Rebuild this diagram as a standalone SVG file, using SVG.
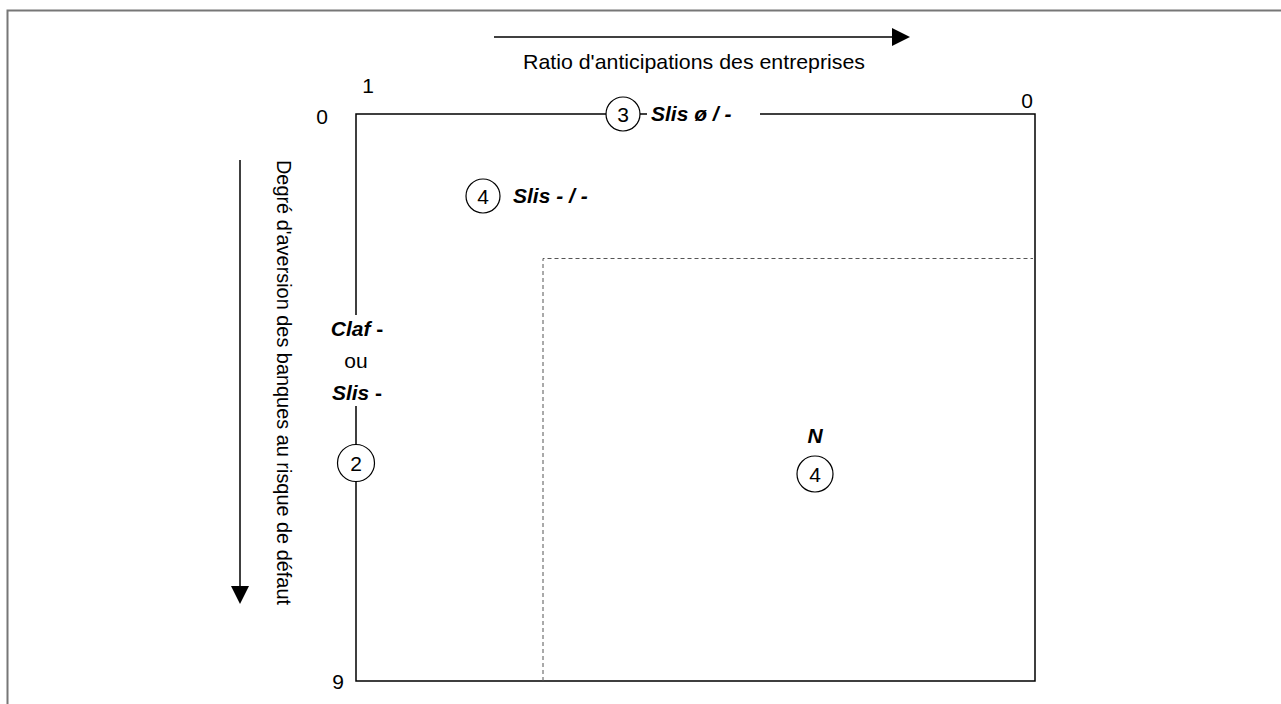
<svg xmlns="http://www.w3.org/2000/svg" width="1281" height="704" viewBox="0 0 1281 704">
<defs>
<style>
text{font-family:"Liberation Sans",Arial,sans-serif;font-size:21px;fill:#000}
.bi{font-weight:bold;font-style:italic}
.ln{stroke:#000;stroke-width:1.5;fill:none}
.dash{stroke:#555;stroke-width:1;stroke-dasharray:4,3;fill:none}
.c{fill:#fff;stroke:#000;stroke-width:1.2}
.mid{text-anchor:middle}
.v{font-size:20px}
</style>
<marker id="ah" markerWidth="18" markerHeight="18" refX="1" refY="9" orient="auto" markerUnits="userSpaceOnUse" viewBox="0 0 18 18">
<path d="M0,0 L18,9 L0,18 Z" fill="#000"/>
</marker>
</defs>
<rect width="1281" height="704" fill="#fff"/>
<path d="M7.5,720 V10.5 H1300" stroke="#777" stroke-width="2" fill="none"/>
<g id="connectors">
<line class="ln" x1="494" y1="37" x2="893" y2="37" stroke-width="1.2" marker-end="url(#ah)"/>
<line class="ln" x1="240" y1="160" x2="240" y2="587" stroke="#555" stroke-width="1.2" marker-end="url(#ah)"/>
<path class="ln" d="M356,315 V114 H1035 V681 H356 V406"/>
<path class="dash" d="M543,681 V258.5 H1033"/>
</g>
<g id="axis-labels">
<text x="523" y="69" textLength="342" lengthAdjust="spacingAndGlyphs">Ratio d'anticipations des entreprises</text>
<text class="v" transform="translate(277,160) rotate(90)" textLength="445" lengthAdjust="spacingAndGlyphs">Degré d'aversion des banques au risque de défaut</text>
<text x="368" y="93" class="mid">1</text>
<text x="322" y="124" class="mid">0</text>
<text x="1027" y="108" class="mid">0</text>
<text x="338" y="689" class="mid">9</text>
</g>
<g id="node-3">
<circle class="c" cx="623" cy="114" r="17"/>
<text x="623" y="121.5" class="mid">3</text>
<rect x="647" y="103" width="113" height="22" fill="#fff"/>
<text x="651" y="121" class="bi">Slis ø / -</text>
</g>
<g id="node-4a">
<circle class="c" cx="483" cy="196" r="17"/>
<text x="483" y="203.5" class="mid">4</text>
<text x="513" y="203" class="bi">Slis - / -</text>
</g>
<g id="node-2">
<text x="357" y="336" class="mid"><tspan class="bi">Claf</tspan><tspan font-weight="bold"> -</tspan></text>
<text x="356" y="368" class="mid">ou</text>
<text x="357" y="400" class="mid"><tspan class="bi">Slis</tspan><tspan font-weight="bold"> -</tspan></text>
<circle class="c" cx="356" cy="463" r="18.5"/>
<text x="356" y="470.5" class="mid">2</text>
</g>
<g id="node-4b">
<text x="815" y="443" class="mid bi">N</text>
<circle class="c" cx="815" cy="474" r="18"/>
<text x="815" y="481.5" class="mid">4</text>
</g>
</svg>
